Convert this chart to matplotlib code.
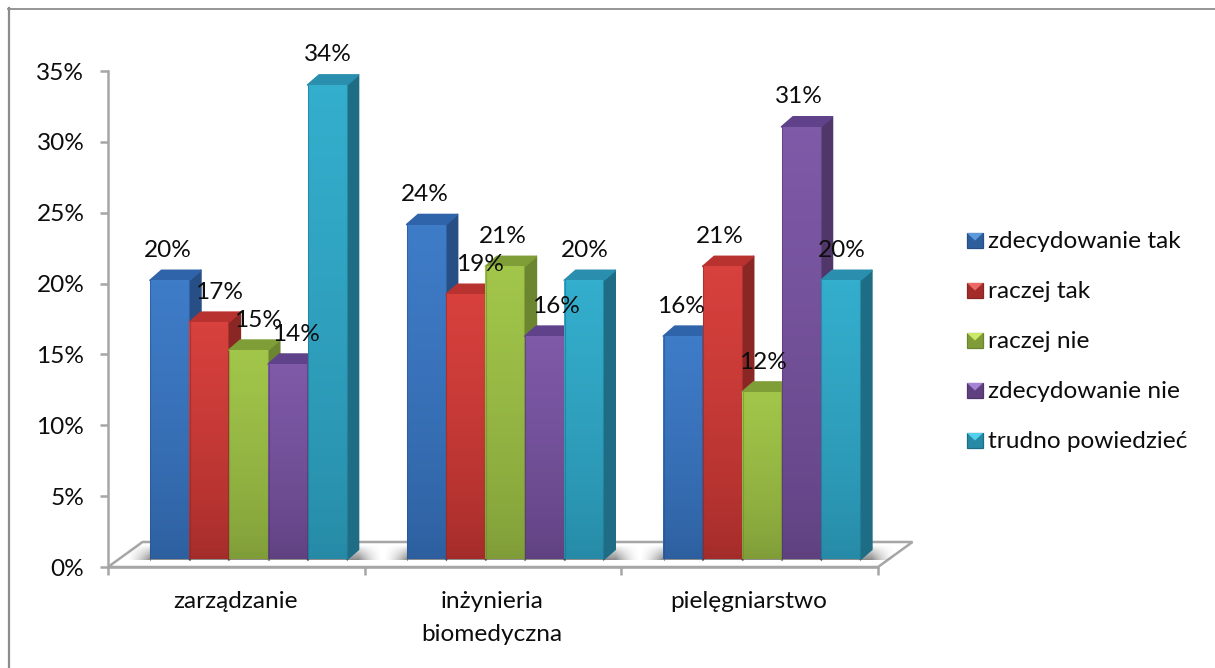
import numpy as np
import matplotlib
matplotlib.use("Agg")
import matplotlib.pyplot as plt
from matplotlib.colors import to_rgb
from matplotlib.patches import Polygon, Rectangle

plt.rcParams['font.family'] = ['Lato', 'DejaVu Sans']

categories = ["zarządzanie", "inżynieria\nbiomedyczna", "pielęgniarstwo"]
series_names = ["zdecydowanie tak", "raczej tak", "raczej nie",
                "zdecydowanie nie", "trudno powiedzieć"]
zdecydowanie_tak = [20, 24, 16]
raczej_tak = [17, 19, 21]
raczej_nie = [15, 21, 12]
zdecydowanie_nie = [14, 16, 31]
trudno_powiedziec = [34, 20, 20]
y_ticks = [0, 5, 10, 15, 20, 25, 30, 35]

series = [zdecydowanie_tak, raczej_tak, raczej_nie, zdecydowanie_nie,
          trudno_powiedziec]

# light, dark, side and top colours per series
face_top = ["#3f7cc8", "#d8413d", "#a2c64a", "#7f5aa8", "#34aecd"]
face_bot = ["#2d5f9e", "#a32c2a", "#7f9c38", "#5f4180", "#268aa6"]
side_col = ["#274f85", "#8a2624", "#6b8530", "#503669", "#1f6d85"]
top_col = ["#2f64aa", "#b83230", "#7f9e38", "#60428a", "#2a8fae"]
legend_light = ["#5c9ade", "#ec6a66", "#cbe866", "#a683d4", "#52d0ec"]

# horizontal nudges of the value labels, in pixels
label_nudge = [[-2, -2, -2], [10, 14, -3], [10, -2, 1], [8, 11, -2], [1, 1, 1]]

FS = 17.6
TXT = "#0d0d0d"
W, H = 1215, 668
fig = plt.figure(figsize=(W / 100, H / 100), dpi=100)

# chart frame: only the top and left edges fall inside the canvas
fig.add_artist(plt.Line2D([8.5 / W, 8.5 / W], [0, 1 - 8 / H],
                          color="#8c8c8c", lw=1.6))
fig.add_artist(plt.Line2D([8 / W, 1], [1 - 8.5 / H, 1 - 8.5 / H],
                          color="#8c8c8c", lw=1.3))

# axes box runs along the front edge of the floor
x0, x1, y0, y1 = 108, 878, 567, 71
ax = fig.add_axes([x0 / W, 1 - y0 / H, (x1 - x0) / W, (y0 - y1) / H])
ax.set_xlim(0, 3)
ax.set_ylim(0, 35)
ax.patch.set_alpha(0)

px_x = 3 / (x1 - x0)
px_y = 35 / (y0 - y1)

bar_w = 39.4 * px_x
dep_x, dep_y = 11.5 * px_x, 10 * px_y
base = 7.5 * px_y
group_off = 42 * px_x

# floor
floor_dx, floor_dy = 34.5 * px_x, 25 * px_y
ax.add_patch(Polygon([(0, 0), (3, 0), (3 + floor_dx, floor_dy), (floor_dx, floor_dy)],
                     closed=True, fc="white", ec="#a6a6a6", lw=1.8,
                     clip_on=False, zorder=1, joinstyle="miter"))

# soft shadow on the floor around each group
for g in range(3):
    left = g + group_off
    right = left + 5 * bar_w + dep_x
    pad = 24 * px_x
    nx, ny = 300, 40
    xs = np.linspace(left - pad, right + pad, nx)
    yy = np.linspace(0, 1, ny)
    edge = np.clip(np.minimum(xs - (left - pad), (right + pad) - xs) / pad, 0, 1) ** 1.6
    fade = (1 - yy) ** 0.9
    img = np.zeros((ny, nx, 4))
    img[..., :3] = 0.3
    img[..., 3] = np.outer(fade, edge) * 0.65
    ax.imshow(img, origin="lower", aspect="auto", zorder=1.5, clip_on=False,
              extent=(left - pad, right + pad, base - 1 * px_y, base + 14 * px_y))

ax.spines[["top", "right"]].set_visible(False)
for s in ["left", "bottom"]:
    ax.spines[s].set_color("#a6a6a6")
    ax.spines[s].set_linewidth(1.8)
    ax.spines[s].set_zorder(2)
ax.set_yticks(y_ticks)
ax.set_yticklabels([f"{v}%" for v in y_ticks], fontsize=FS, color=TXT)
ax.set_xticks([0, 1, 2, 3])
ax.set_xticklabels([])
ax.tick_params(axis="both", color="#a6a6a6", width=1.8, length=6)
ax.tick_params(axis="y", pad=11)
for i, name in enumerate(categories):
    ax.text(i + 0.5 - 1 * px_x, -24 * px_y, name, ha="center", va="top", fontsize=FS,
            color=TXT, linespacing=1.7, clip_on=False)

# 3D looking bars, drawn left to right so each one overlaps its neighbour's side
for g in range(3):
    for s, vals in enumerate(series):
        v = vals[g]
        left = g + group_off + s * bar_w
        right = left + bar_w
        top = v + base * (1 - v / 35)
        z = 3 + g * 10 + s * 0.5
        ax.add_patch(Polygon([(right, base), (right + dep_x, base + dep_y),
                              (right + dep_x, top + dep_y), (right, top)],
                             closed=True, fc=side_col[s], ec=side_col[s], lw=1.2,
                             joinstyle="round", zorder=z))
        ax.add_patch(Polygon([(left, top), (left + dep_x, top + dep_y),
                              (right + dep_x, top + dep_y), (right, top)],
                             closed=True, fc=top_col[s], ec=top_col[s], lw=1.2,
                             joinstyle="round", zorder=z))
        # front face with a soft top to bottom shading
        rect = ax.bar(left, top - base, bar_w, bottom=base, align="edge",
                      fc="none", ec="none", zorder=z + 0.1)[0]
        n = 64
        grad = np.linspace(0, 1, n)[:, None, None] ** 0.7
        c0, c1 = np.array(to_rgb(face_top[s])), np.array(to_rgb(face_bot[s]))
        img = c1 * (1 - grad) + c0 * grad
        im = ax.imshow(np.repeat(img, 4, axis=1), origin="lower", aspect="auto",
                       extent=(left, right, base, top), zorder=z + 0.1)
        im.set_clip_path(rect)
        # darker rims at both edges of the face
        ax.plot([left + 0.4 * px_x] * 2, [base, top], color=side_col[s], lw=0.8,
                alpha=0.5, zorder=z + 0.2)
        ax.plot([right - 0.4 * px_x] * 2, [base, top], color=side_col[s], lw=0.8,
                alpha=0.5, zorder=z + 0.2)

# value labels stay above every bar
for g in range(3):
    for s, vals in enumerate(series):
        v = vals[g]
        top = v + base * (1 - v / 35)
        cx = g + group_off + (s + 0.5) * bar_w + label_nudge[s][g] * px_x
        ax.text(cx, top + 30 * px_y, f"{v}%", ha="center", va="center",
                fontsize=FS, color=TXT, zorder=100, clip_on=False)

ax.set_xlim(0, 3)
ax.set_ylim(0, 35)

# legend entries in figure pixels, markers lit from above
leg_y = [240.5, 290.5, 340.5, 390.5, 440.5]
for s, (name, y) in enumerate(zip(series_names, leg_y)):
    lx, rx = 967 / W, 983 / W
    ty, by = 1 - (y - 7.5) / H, 1 - (y + 7.5) / H
    cx, cy = (lx + rx) / 2, (ty + by) / 2
    fig.add_artist(Rectangle((lx, by), rx - lx, ty - by, transform=fig.transFigure,
                             fc=face_bot[s], ec=side_col[s], lw=0.9))
    fig.add_artist(Polygon([(lx, ty), (rx, ty), (cx, cy)], closed=True,
                           transform=fig.transFigure, fc=legend_light[s], ec="none"))
    fig.text(988 / W, 1 - (y + 1) / H, name, fontsize=FS, va="center", ha="left",
             color=TXT)

fig.savefig("out.png", dpi=100, facecolor="white")
